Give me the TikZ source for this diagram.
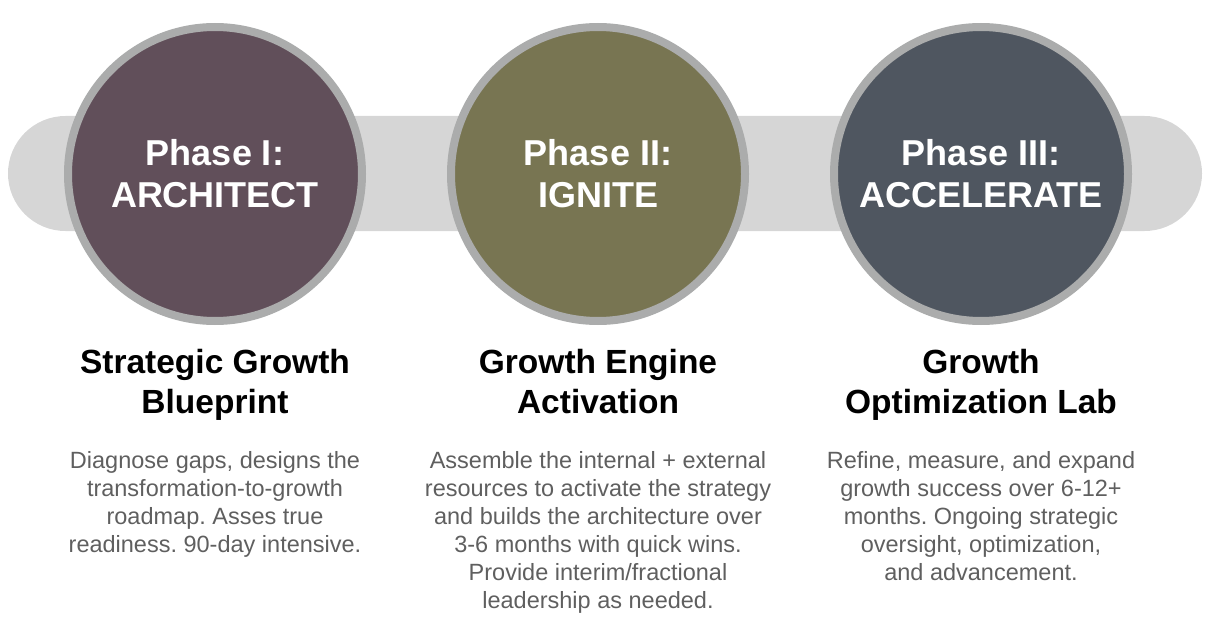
\documentclass[tikz,border=0pt]{standalone}
\usepackage{fontspec}
\setmainfont{Liberation Sans}
\usetikzlibrary{positioning}
\definecolor{bandgray}{HTML}{D6D6D6}
\definecolor{ringgray}{HTML}{ABACAC}
\definecolor{archfill}{HTML}{614F5A}
\definecolor{ignitefill}{HTML}{787552}
\definecolor{accelfill}{HTML}{4F5660}
\definecolor{bodygray}{HTML}{5F5F5F}
\frenchspacing

\begin{document}
\begin{tikzpicture}[
        x=1pt, y=-1pt,
        node distance=89pt,
        phase/.style={circle, draw=ringgray, line width=8pt, minimum size=294pt, inner sep=0pt, outer sep=0pt, text=white, align=center, font=\fontsize{36}{42}\selectfont\bfseries},
        heading/.style={align=center, inner sep=0pt, font=\fontsize{33.5}{40}\selectfont\bfseries},
        blurb/.style={align=center, inner sep=0pt, text=bodygray, font=\fontsize{23.5}{28}\selectfont}
    ]
        \useasboundingbox (0,0) rectangle (1211,623);
        \fill[bandgray, rounded corners=57.5pt] (8,116) rectangle (1202,231);

        \node[phase, fill=archfill] (architect) at (215,174) {Phase I:\\ARCHITECT};
        \node[phase, fill=ignitefill, right=of architect] (ignite) {Phase II:\\IGNITE};
        \node[phase, fill=accelfill, right=of ignite] (accelerate) {Phase III:\\ACCELERATE};

        \node[heading, below=28pt of architect] (blueprint) {Strategic Growth\\Blueprint};
        \node[heading, below=28pt of ignite] (activation) {Growth Engine\\Activation};
        \node[heading, below=28pt of accelerate] (lab) {Growth\\Optimization Lab};

        \node[blurb, below=130pt of architect] (blueprinttext) {Diagnose gaps, designs the\\transformation-to-growth\\roadmap. Asses true\\readiness. 90-day intensive.};
        \node[blurb, below=130pt of ignite] (activationtext) {Assemble the internal + external\\resources to activate the strategy\\and builds the architecture over\\3-6 months with quick wins.\\Provide interim/fractional\\leadership as needed.};
        \node[blurb, below=130pt of accelerate] (labtext) {Refine, measure, and expand\\growth success over 6-12+\\months. Ongoing strategic\\oversight, optimization,\\and advancement.};
    \end{tikzpicture}
\end{document}
